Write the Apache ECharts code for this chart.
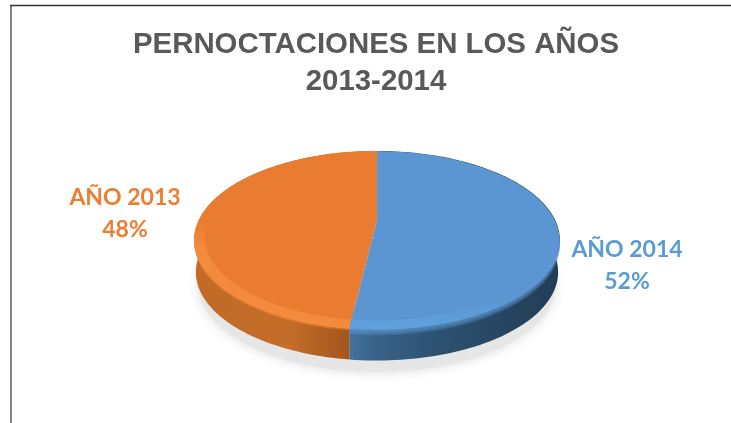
<!DOCTYPE html>
<html><head><meta charset="utf-8">
<style>html,body{margin:0;padding:0;background:#fff}#c{width:731px;height:423px}</style>
<script src="https://cdn.jsdelivr.net/npm/echarts@6/dist/echarts.min.js"></script>
</head><body><div id="c"></div>
<script>
var categories = ['AÑO 2014', 'AÑO 2013'];
var values = [52, 48];
var titleLines = ['PERNOCTACIONES EN LOS AÑOS', '2013-2014'];

var chart = echarts.init(document.getElementById('c'), null, {renderer: 'canvas'});
var total = values[0] + values[1];
var apexX = 377, apexY = 220, A = 171.7, B = 82.3, K = 0.193;
function proj(deg, r, dy) {
  var t = deg * Math.PI / 180, u = Math.sin(t), v = -Math.cos(t), d = 1 - K * v;
  return [apexX + r * A * u / d, apexY + r * B * v / d + dy];
}
function arc(a0, a1, r, dy) {
  var n = Math.max(2, Math.ceil((a1 - a0) / 1.5)), p = [];
  for (var i = 0; i <= n; i++) p.push(proj(a0 + (a1 - a0) * i / n, r, dy));
  return p;
}
function range(i) {
  var s = 0;
  for (var j = 0; j < i; j++) s += values[j];
  return [s / total * 360, (s + values[i]) / total * 360];
}
function grad(x0, x1, stops) {
  return new echarts.graphic.LinearGradient(x0, 0, x1, 0, stops, true);
}
function vgrad(y0, y1, stops) {
  return new echarts.graphic.LinearGradient(0, y0, 0, y1, stops, true);
}
var wallFill = [
  grad(349, 558, [{offset: 0, color: '#44719e'}, {offset: .12, color: '#3a6389'}, {offset: .4, color: '#2d5272'}, {offset: 1, color: '#213d55'}]),
  grad(195, 349, [{offset: 0, color: '#c26b27'}, {offset: .6, color: '#c46d28'}, {offset: 1, color: '#a3561d'}])
];
var topFill = ['#5b96d2', '#e97c30'];
var glow = ['rgba(91,150,210,0.22)', 'rgba(240,132,56,0.4)'];
var glowCount = [6, 2];
var crescentFill = [
  vgrad(300, 326, [{offset: 0, color: 'rgba(95,160,220,0)'}, {offset: 1, color: '#5fa0dc'}]),
  vgrad(222, 246, [{offset: 0, color: 'rgba(243,138,60,0)'}, {offset: 1, color: '#f38a3c'}])
];
var TOP_R = [1.042, 1.045], TOP_DY = [3.2, 3], INNER_R = 0.985, RIM_R = 1.045, RIM_DY = 3, BOT_R = 1.035, BOT_DY = 35;

function layer(z, fn) {
  return {type: 'custom', coordinateSystem: 'none', z: z, silent: true, animation: false, clip: false,
    data: values.map(function (v, i) { return {value: v, name: categories[i]}; }),
    renderItem: function (params) { return fn(params.dataIndex); }};
}
var series = [
  layer(1, function (i) {
    if (i) return null;
    return {type: 'polygon', shape: {points: arc(0, 360, 1.02, 48)},
      style: {fill: '#e6e6e6', shadowBlur: 12, shadowColor: '#dcdcdc'}};
  }),
  layer(2, function (i) {
    var r = range(i);
    return {type: 'polygon', shape: {points: arc(r[0], r[1], RIM_R, RIM_DY).concat(arc(r[0], r[1], BOT_R, BOT_DY).reverse())},
      style: {fill: wallFill[i]}};
  }),
  layer(3, function (i) {
    var r = range(i), kids = [];
    for (var k = glowCount[i]; k >= 1; k--) {
      kids.push({type: 'polygon', shape: {points: arc(r[0], r[1], RIM_R, RIM_DY + k).concat(arc(r[0], r[1], 0.9, 0).reverse())},
        style: {fill: glow[i]}});
    }
    return {type: 'group', children: kids};
  }),
  layer(4, function (i) {
    var r = range(i);
    return {type: 'polygon', shape: {points: [[apexX, apexY]].concat(arc(r[0], r[1], TOP_R[i], TOP_DY[i]))},
      style: {fill: topFill[i]}};
  }),
  layer(5, function (i) {
    var r = range(i);
    return {type: 'polygon', shape: {points: arc(r[0], r[1], TOP_R[i], TOP_DY[i]).concat(arc(r[0], r[1], INNER_R, 0).reverse())},
      style: {fill: crescentFill[i]}};
  }),
  layer(6, function (i) {
    var pos = i === 0 ? [627, 266] : [125, 214];
    return {type: 'text', x: pos[0], y: pos[1],
      style: {text: categories[i] + '\n' + Math.round(values[i] / total * 100) + '%', fill: i === 0 ? '#5b9bd5' : '#ed7d31',
        font: 'bold 23px Lato', align: 'center', verticalAlign: 'middle', lineHeight: 32}};
  })
];
chart.setOption({
  backgroundColor: '#fff', animation: false,
  title: {text: titleLines.join('\n'), left: 371, top: 21, textAlign: 'center',
    textStyle: {fontFamily: 'Liberation Sans', fontWeight: 'bold', fontSize: 29.4, lineHeight: 37, color: '#595959', align: 'center'}},
  graphic: [
    {type: 'line', shape: {x1: 11, y1: 5, x2: 11, y2: 423}, style: {stroke: '#858585', lineWidth: 2}, silent: true},
    {type: 'line', shape: {x1: 10, y1: 5.5, x2: 731, y2: 5.5}, style: {stroke: '#333', lineWidth: 1.4}, silent: true}
  ],
  series: series
});
</script></body></html>
